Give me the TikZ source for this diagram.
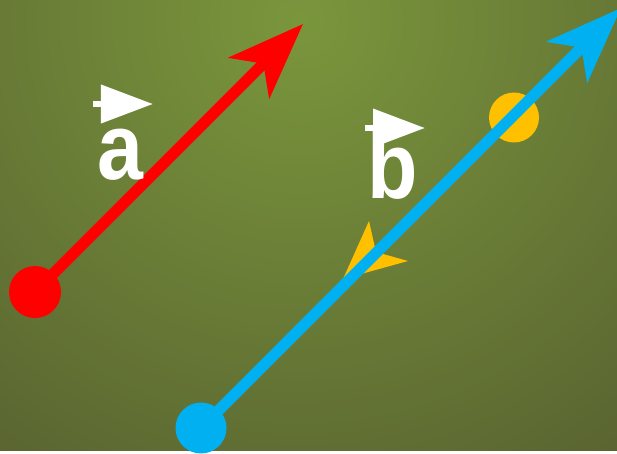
\documentclass[tikz,border=0pt]{standalone}
\usepackage{fontspec}
\setmainfont{Liberation Sans}
\usepackage{graphicx}
\usepackage{tikz}
\usetikzlibrary{arrows.meta, positioning, calc}
\definecolor{bglight}{RGB}{122, 150, 60}
\definecolor{bgdark}{RGB}{70, 70, 42}
\definecolor{vecred}{RGB}{255, 0, 0}
\definecolor{vecblue}{RGB}{0, 176, 240}
\definecolor{vecgold}{RGB}{255, 192, 0}
\pgfdeclareradialshading{bgglow}{\pgfpoint{0bp}{0bp}}{color(0bp)=(bglight); color(50bp)=(bgdark)}

\begin{document}
\begin{tikzpicture}[x=0.03cm, y=-0.03cm,
    letter/.style={text=white, inner sep=0pt, anchor=base, font=\fontsize{80}{84}\selectfont\bfseries},
    vecmark/.style={draw=white, line width=0.18cm, -{Triangle[length=1.56cm, width=1.12cm]}},
    shaft/.style={line width=0.33cm, -{Stealth[length=2.28cm, width=1.71cm, inset=0.6cm]}}]
    \useasboundingbox (0, 0) rectangle (617, 454);
    \begin{scope}
        \clip (0, 0) rectangle (617, 454);
        \shade[shading=bgglow] (-130, -410) rectangle (730, 450);
    \end{scope}

    % red vector
    \coordinate (RedTail) at (35, 292);
    \coordinate (RedTip) at (303, 24);
    \draw[shaft, vecred] (RedTail) -- (RedTip);
    \fill[vecred] (RedTail) circle (0.78cm);

    % gold point and arrowhead
    \coordinate (GoldDot) at (514, 117.5);
    \coordinate (GoldTip) at (343, 279);
    \fill[vecgold] (GoldDot) circle (0.75cm);
    \fill[vecgold] (GoldTip) -- (369, 221) -- (376, 252) -- (408, 261) -- cycle;

    % blue vector
    \coordinate (BlueTail) at (201, 428);
    \coordinate (BlueTip) at (621, 8);
    \begin{scope}
        \clip (0, 0) rectangle (617, 454);
        \draw[shaft, vecblue] (BlueTail) -- (BlueTip);
    \end{scope}
    \fill[vecblue] (BlueTail) circle (0.765cm);

    \node[letter] (LabelA) at (120, 179.5) {\scalebox{0.88}[1]{a}};
    \draw[vecmark] ($(LabelA.base) + (-27, -75.5)$) -- ++(60, 0);

    \node[letter] (LabelB) at (393, 198) {\scalebox{0.88}[1]{b}};
    \draw[vecmark] ($(LabelB.base) + (-28, -70)$) -- ++(60, 0);
\end{tikzpicture}
\end{document}
